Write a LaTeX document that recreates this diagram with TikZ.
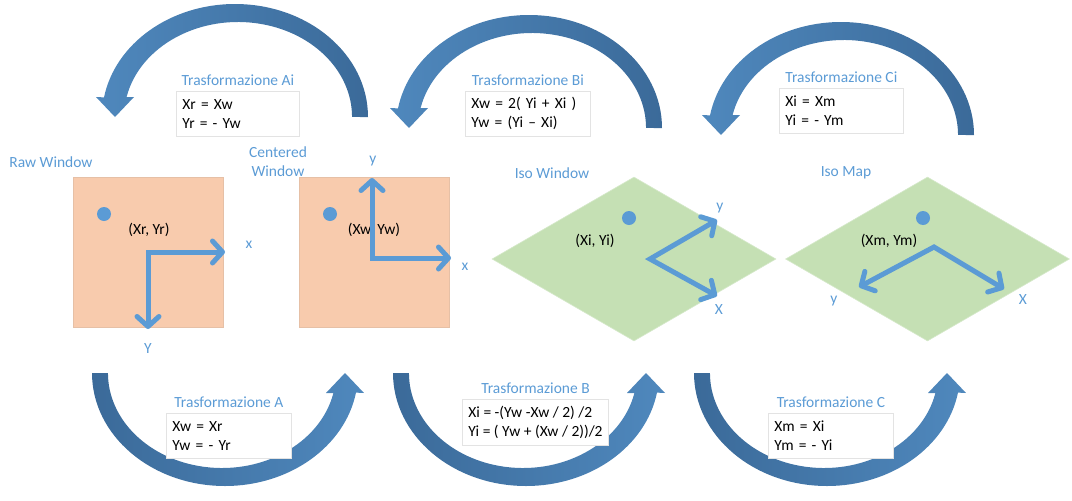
\documentclass[tikz,border=0pt]{standalone}
\usepackage{fontspec}
\setmainfont{Carlito}
\usetikzlibrary{arrows.meta,positioning,shapes.geometric}
\definecolor{winfill}{HTML}{F8CBAD}
\definecolor{isofill}{HTML}{C5E0B4}
\definecolor{axisblue}{HTML}{5B9BD5}
\definecolor{arclight}{HTML}{4F88BD}
\definecolor{arcdark}{HTML}{3B6A99}
\definecolor{boxline}{HTML}{E3E3E3}
\tikzset{every node/.style={font=\fontsize{15.5}{19}\selectfont},
    axtip/.tip={Straight Barb[length=10pt,width=22pt,line cap=round,line join=round]},
    winbox/.style={draw=winfill!85!gray, line width=0.6pt, fill=winfill,
        minimum size=150pt, inner sep=0pt},
    isobox/.style={diamond, draw=isofill!70!white, line width=0.6pt, fill=isofill,
        minimum width=284pt, minimum height=164pt, inner sep=0pt},
    spot/.style={circle, fill=axisblue, minimum size=14pt, inner sep=0pt},
    axis/.style={draw=axisblue, line width=5pt, axtip-axtip},
    axlabel/.style={text=axisblue, inner sep=0pt},
    wintitle/.style={text=axisblue, align=center, inner sep=0pt},
    ptlabel/.style={inner sep=0pt},
    trbox/.style={draw=boxline, fill=white, line width=0.8pt, anchor=north west,
        minimum height=45pt, inner xsep=6pt, align=left},
    trtitle/.style={text=axisblue, inner sep=0pt},
    arcup/.style={left color=arclight, right color=arcdark},
    arcdown/.style={left color=arcdark, right color=arclight},
    }
\newcommand{\trasfarc}[1]{%
    \shade[#1] (133,0) arc[start angle=0, end angle=-170, x radius=133, y radius=113]
        -- (-139,-20) -- (-120,0) -- (-101,-20) -- (-108.4,-20)
        arc[start angle=-167.85, end angle=0, x radius=114, y radius=95] -- cycle;}

\begin{document}
\begin{tikzpicture}[x=1pt, y=-1pt]
\useasboundingbox (0,0) rectangle (1072,501);
% curved arrows
\trasfarc{arcup, shift={(235,117)}}
\trasfarc{arcup, shift={(529,128)}}
\trasfarc{arcup, shift={(841,135)}}
\trasfarc{arcdown, shift={(225,373)}, rotate=180}
\trasfarc{arcdown, shift={(526,373)}, rotate=180}
\trasfarc{arcdown, shift={(827,373)}, rotate=180}

% windows
\node[winbox] (rawwin) at (148,252.5) {};
\node[winbox] (cenwin) at (374.5,252.5) {};
\node[isobox] (isowin) at (634,259) {};
\node[isobox] (isomap) at (927.5,259) {};
\node[wintitle] (rawtitle) at (51,162) {Raw Window};
\node[wintitle] (centitle) at (278,162) {Centered\\Window};
\node[wintitle] (isowintitle) at (552,173) {Iso Window};
\node[wintitle] (isomaptitle) at (846,173) {Iso Map};

% points
\node[spot] (rawpt) at (104,214) {};
\node[spot] (cenpt) at (330,214) {};
\node[spot] (isowinpt) at (629,218) {};
\node[spot] (isomappt) at (923,218) {};
\node[ptlabel] (rawxy) at (149,230) {(Xr, Yr)};
\node[ptlabel] (cenxy) at (374,230) {(Xw, Yw)};
\node[ptlabel] (isowinxy) at (595,241) {(Xi, Yi)};
\node[ptlabel] (isomapxy) at (889,241) {(Xm, Ym)};

% axes
\coordinate (rawO) at (148,252);
\coordinate (rawX) at (225,252);
\coordinate (rawY) at (148,329);
\draw[axis] (rawY) -- (rawO) -- (rawX);
\node[axlabel] (rawxl) at (249,245) {x};
\node[axlabel] (rawyl) at (148,349) {Y};
\coordinate (cenO) at (372,258);
\coordinate (cenX) at (451,258);
\coordinate (cenY) at (372,178);
\draw[axis] (cenY) -- (cenO) -- (cenX);
\node[axlabel] (cenyl) at (373,161) {y};
\node[axlabel] (cenxl) at (465,267) {x};
\coordinate (isowinO) at (650,259);
\coordinate (isowinX) at (717,296);
\coordinate (isowinY) at (717,220);
\draw[axis] (isowinY) -- (isowinO) -- (isowinX);
\node[axlabel] (isowinyl) at (720,208) {y};
\node[axlabel] (isowinxl) at (719,310) {X};
\coordinate (isomapO) at (934,247);
\coordinate (isomapX) at (1004,289);
\coordinate (isomapY) at (859,287);
\draw[axis] (isomapY) -- (isomapO) -- (isomapX);
\node[axlabel] (isomapyl) at (834,301) {y};
\node[axlabel] (isomapxl) at (1023,300) {X};

% transformations
\node[trbox, text width=111pt] (boxAi) at (176,91) {Xr = Xw\\Yr = - Yw};
\node[trtitle, above=5pt of boxAi] (titAi) {Trasformazione Ai};
\node[trbox, text width=113pt] (boxBi) at (465,91) {Xw = 2( Yi + Xi )\\Yw = (Yi – Xi)};
\node[trtitle, above=5pt of boxBi] (titBi) {Trasformazione Bi};
\node[trbox, text width=112pt] (boxCi) at (779,88) {Xi = Xm\\Yi = - Ym};
\node[trtitle, above=5pt of boxCi] (titCi) {Trasformazione Ci};
\node[trbox, text width=113pt] (boxA) at (166,413) {Xw = Xr\\Yw = - Yr};
\node[trtitle, above=5pt of boxA] (titA) {Trasformazione A};
\node[trbox, minimum width=145pt, minimum height=46pt] (boxB) at (462,399) {Xi = -(Yw -Xw / 2) /2\\Yi = ( Yw + (Xw / 2))/2};
\node[trtitle, above=5pt of boxB] (titB) {Trasformazione B};
\node[trbox, text width=113pt] (boxC) at (768,413) {Xm = Xi\\Ym = - Yi};
\node[trtitle, above=5pt of boxC] (titC) {Trasformazione C};
\end{tikzpicture}
\end{document}
